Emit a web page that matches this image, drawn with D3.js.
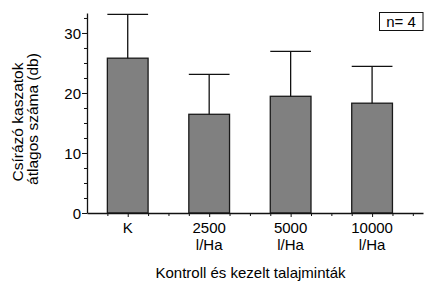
<!DOCTYPE html>
<html><head><meta charset="utf-8">
<script src="https://cdn.jsdelivr.net/npm/d3@7"></script>
<style>
html,body{margin:0;padding:0;background:#fff;}
text{font-family:"Liberation Sans",Arial,sans-serif;fill:#000;}
</style></head>
<body><svg id="c" width="445" height="285"></svg>
<script>
const categories = ["K", "2500\nl/Ha", "5000\nl/Ha", "10000\nl/Ha"];
const means = [25.8, 16.45, 19.45, 18.3];
const errors = [7.3, 6.65, 7.5, 6.15];
const yTicks = [0, 10, 20, 30];
const yTitle = ["Csírázó kaszatok", "átlagos száma (db)"];
const xTitle = "Kontroll és kezelt talajminták";
const nLabel = "n= 4";

const svg = d3.select("#c");
const x = d3.scaleLinear().domain([0.5, 4.625]).range([87, 423]);
const y = d3.scaleLinear().domain([0, 33.33]).range([213, 13]);
const unit = x(2) - x(1);
const bw = unit * 0.5;

// bars
const g = svg.append("g");
means.forEach((m, i) => {
  const cx = x(i + 1);
  g.append("rect").attr("x", cx - bw/2).attr("y", y(m))
    .attr("width", bw).attr("height", y(0) - y(m))
    .attr("fill", "#808080").attr("stroke", "#1a1a1a").attr("stroke-width", 1.3);
  g.append("line").attr("x1", cx).attr("x2", cx).attr("y1", y(m)).attr("y2", y(m + errors[i]))
    .attr("stroke", "#111").attr("stroke-width", 1.3);
  g.append("line").attr("x1", cx - bw/2).attr("x2", cx + bw/2)
    .attr("y1", y(m + errors[i])).attr("y2", y(m + errors[i]))
    .attr("stroke", "#111").attr("stroke-width", 1.3);
});

// y axis
const yMinor = d3.range(0, 33.4, 2.5).filter(v => v % 10 !== 0);
const ay = svg.append("g").attr("transform", "translate(87,0)");
ay.call(d3.axisLeft(y).tickValues(yMinor).tickSize(3).tickFormat(""));
ay.call(g2 => g2.select(".domain").remove());
const ay2 = svg.append("g").attr("transform", "translate(87,0)");
ay2.call(d3.axisLeft(y).tickValues(yTicks).tickSize(5).tickPadding(1).tickFormat(d3.format("d")).tickSizeOuter(0));
ay2.selectAll("text").style("font-size", "15px").attr("dy", "0.36em");
svg.selectAll("g path, g line").attr("stroke", "#111");

// x axis
const xMinor = d3.range(0.75, 4.6, 0.25).filter(v => !Number.isInteger(v));
const ax = svg.append("g").attr("transform", "translate(0,213)");
ax.call(d3.axisBottom(x).tickValues(xMinor).tickSize(3).tickFormat(""));
ax.call(g2 => g2.select(".domain").remove());
const ax2 = svg.append("g").attr("transform", "translate(0,213)");
ax2.call(d3.axisBottom(x).tickValues([1,2,3,4]).tickSize(4).tickSizeOuter(0).tickFormat(""));
svg.selectAll(".domain").attr("stroke", "#111").attr("stroke-width", 1.3);
svg.selectAll(".tick line").attr("stroke", "#111");

categories.forEach((c, i) => {
  const lines = c.split("\n");
  const t = svg.append("text").attr("x", x(i + 1)).attr("y", 233)
    .attr("text-anchor", "middle").style("font-size", "15px");
  lines.forEach((l, j) => t.append("tspan").attr("x", x(i + 1)).attr("dy", j ? 16.5 : 0).text(l));
});

// titles
svg.append("text").attr("x", 250.5).attr("y", 278).attr("text-anchor", "middle")
  .style("font-size", "15px").text(xTitle);
yTitle.forEach((t, j) => {
  svg.append("text").attr("transform", `translate(${j ? 38 : 23},${j ? 119 : 122}) rotate(-90)`)
    .attr("text-anchor", "middle").style("font-size", "15.5px").text(t);
});

// n box
svg.append("rect").attr("x", 379.5).attr("y", 12.5).attr("width", 43.5).attr("height", 18)
  .attr("fill", "none").attr("stroke", "#111").attr("stroke-width", 1);
svg.append("text").attr("x", 401).attr("y", 27).attr("text-anchor", "middle")
  .style("font-size", "15px").text(nLabel);
</script></body></html>
